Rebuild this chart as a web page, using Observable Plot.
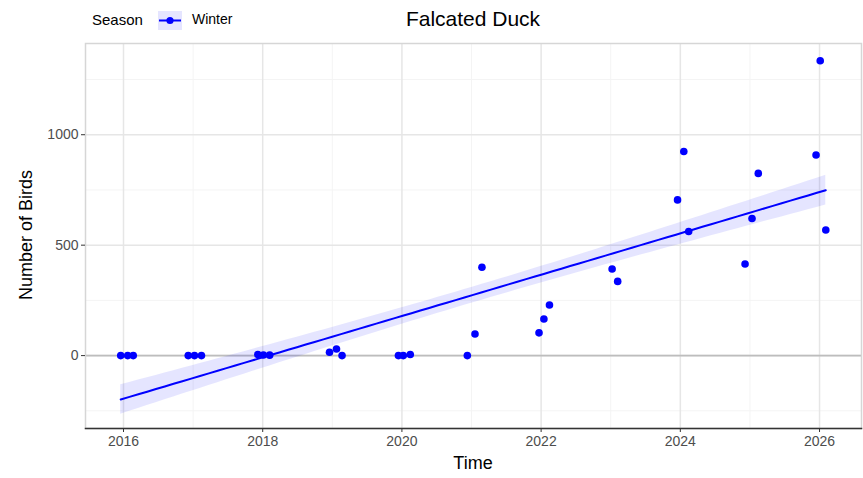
<!DOCTYPE html>
<html>
<head>
<meta charset="utf-8">
<script src="https://cdn.jsdelivr.net/npm/d3@7"></script>
<script src="https://cdn.jsdelivr.net/npm/@observablehq/plot@0.6"></script>
<style>
  html, body { margin: 0; padding: 0; background: #fff; }
  #wrap { position: relative; width: 863px; height: 478px; font-family: "Liberation Sans", Arial, sans-serif; }
  #wrap svg { position: absolute; left: 0; top: 0; }
  .ovl { position: absolute; white-space: nowrap; color: #000; }
</style>
</head>
<body>
<div id="wrap">
  <div class="ovl" id="title" style="left:0;width:946px;top:7px;text-align:center;font-size:21px;">Falcated Duck</div>
  <div class="ovl" id="legTitle" style="left:92px;top:11px;font-size:15px;">Season</div>
  <svg id="key" width="24" height="19" style="position:absolute;left:158px;top:11px;">
    <rect x="0" y="0" width="24" height="19" fill="blue" fill-opacity="0.1"></rect>
    <line x1="1" x2="23" y1="9.5" y2="9.5" stroke="blue" stroke-width="2"></line>
    <circle cx="12" cy="9.5" r="3.6" fill="blue"></circle>
  </svg>
  <div class="ovl" id="legLabel" style="left:192px;top:11px;font-size:14px;">Winter</div>
  <div class="ovl" id="xTitle" style="left:85px;width:776px;top:453px;text-align:center;font-size:18px;">Time</div>
  <div class="ovl" id="yTitle" style="left:26px;top:235px;font-size:18px;transform:translate(-50%,-50%) rotate(-90deg);">Number of Birds</div>
</div>
<script>
// Observation times (decimal years) and winter counts
const times = [
  2015.96, 2016.06, 2016.14,
  2016.93, 2017.02, 2017.12,
  2017.93, 2018.01, 2018.10,
  2018.96, 2019.06, 2019.14,
  2019.95, 2020.02, 2020.12,
  2020.94, 2021.05, 2021.15,
  2021.97, 2022.04, 2022.12,
  2023.02, 2023.10,
  2023.96, 2024.05, 2024.12,
  2024.93, 2025.03, 2025.12,
  2025.95, 2026.01, 2026.09
];
const counts = [
  0, 0, 0,
  0, 0, 0,
  5, 3, 2,
  15, 30, 0,
  0, 0, 5,
  0, 98, 400,
  103, 166, 229,
  392, 336,
  705, 924, 562,
  415, 621, 825,
  908, 1335, 569
];
const seasons = times.map(() => "Winter");
const xTicks = [2016, 2018, 2020, 2022, 2024, 2026];
const xMinor = [2017, 2019, 2021, 2023, 2025];
const yTicks = [0, 500, 1000];
const yMinor = [-250, 250, 750, 1250];

const data = times.map((t, i) => ({time: t, count: counts[i], season: seasons[i]}));

// Linear model fit with a confidence band around the mean, width matched to the reference band
const n = data.length;
const xbar = d3.mean(times), ybar = d3.mean(counts);
const sxx = d3.sum(times, x => (x - xbar) ** 2);
const sxy = d3.sum(data, d => (d.time - xbar) * (d.count - ybar));
const slope = sxy / sxx, intercept = ybar - slope * xbar;
const rss = d3.sum(data, d => (d.count - (intercept + slope * d.time)) ** 2);
const se = Math.sqrt(rss / (n - 2));
const tcrit = 1.02;
const [xmin, xmax] = d3.extent(times);
const fit = d3.range(81).map(i => {
  const x = xmin + (xmax - xmin) * i / 80;
  const yhat = intercept + slope * x;
  const h = tcrit * se * Math.sqrt(1 / n + (x - xbar) ** 2 / sxx);
  return {time: x, fit: yhat, lo: yhat - h, hi: yhat + h};
});

const chart = Plot.plot({
  width: 863,
  height: 478,
  marginLeft: 85,
  marginRight: 2,
  marginTop: 43,
  marginBottom: 50,
  style: {fontFamily: "Liberation Sans, Arial, sans-serif", background: "transparent"},
  x: {domain: [2015.454, 2026.603]},
  y: {domain: [-330, 1413]},
  marks: [
    Plot.gridY(yMinor, {stroke: "#f4f4f4", strokeOpacity: 1, strokeWidth: 1}),
    Plot.gridX(xMinor, {stroke: "#f4f4f4", strokeOpacity: 1, strokeWidth: 1}),
    Plot.gridY(yTicks, {stroke: "#e6e6e6", strokeOpacity: 1, strokeWidth: 1.5}),
    Plot.gridX(xTicks, {stroke: "#e6e6e6", strokeOpacity: 1, strokeWidth: 1.5}),
    Plot.ruleY([0], {stroke: "#bdbdbd", strokeWidth: 1.6}),
    Plot.frame({stroke: "#d6d6d6", strokeWidth: 1.5}),
    Plot.frame({anchor: "bottom", stroke: "#333", strokeWidth: 1.5}),
    Plot.areaY(fit, {x: "time", y1: "lo", y2: "hi", fill: "blue", fillOpacity: 0.1}),
    Plot.line(fit, {x: "time", y: "fit", stroke: "blue", strokeWidth: 2}),
    Plot.dot(data, {x: "time", y: "count", fill: "blue", r: 3.8}),
    Plot.axisX({ticks: xTicks, tickFormat: "d", tickSize: 4, tickPadding: 4, fontSize: 14, color: "#4d4d4d", stroke: "#333", label: null}),
    Plot.axisY({ticks: yTicks, tickFormat: "d", tickSize: 4, tickPadding: 3, fontSize: 14, color: "#4d4d4d", stroke: "#333", label: null})
  ]
});
document.getElementById("wrap").prepend(chart);
</script>
</body>
</html>
